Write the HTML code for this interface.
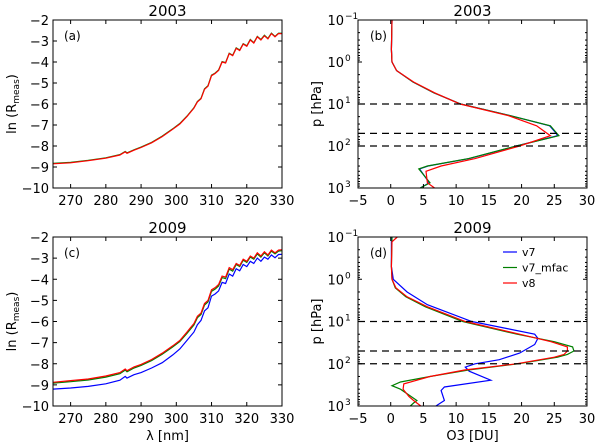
<!DOCTYPE html>
<html><head><meta charset="utf-8"><style>
html,body{margin:0;padding:0;background:#fff;}
svg{display:block;font-family:"DejaVu Sans","Liberation Sans",sans-serif;}
</style></head><body>
<svg id="fig" width="600" height="445" viewBox="0 0 600 445" xmlns="http://www.w3.org/2000/svg"></svg>
<script>
// ---- spectra data (panels a,c) ----
const lam = [265,270,275,280,284,285.5,286,288,290,293,296,299,301,303,304,305,306,307,308,309,310,311,312,313,314,315,316,317,318,319,320,321,322,323,324,325,326,327,328,329,330];
const lnA_v8 = [-8.85,-8.8,-8.7,-8.58,-8.43,-8.28,-8.35,-8.2,-8.07,-7.85,-7.55,-7.2,-6.95,-6.6,-6.4,-6.2,-5.9,-5.75,-5.3,-5.15,-4.65,-4.55,-4.4,-4.0,-4.05,-3.6,-3.7,-3.35,-3.45,-3.15,-3.25,-2.95,-3.1,-2.8,-2.95,-2.75,-2.9,-2.65,-2.8,-2.65,-2.65];
const lnA_mfac = [-8.83,-8.78,-8.68,-8.56,-8.41,-8.26,-8.33,-8.18,-8.05,-7.83,-7.53,-7.18,-6.93,-6.58,-6.38,-6.18,-5.88,-5.73,-5.28,-5.13,-4.63,-4.53,-4.38,-3.98,-4.03,-3.58,-3.68,-3.33,-3.43,-3.13,-3.23,-2.93,-3.08,-2.78,-2.93,-2.73,-2.88,-2.63,-2.78,-2.63,-2.63];
const lnC_v8 = [-8.88,-8.8,-8.72,-8.58,-8.42,-8.25,-8.33,-8.15,-8.03,-7.8,-7.5,-7.15,-6.9,-6.5,-6.3,-6.1,-5.75,-5.6,-5.15,-5.0,-4.5,-4.4,-4.25,-3.85,-3.9,-3.45,-3.55,-3.25,-3.35,-3.05,-3.15,-2.9,-3.0,-2.75,-2.9,-2.7,-2.85,-2.62,-2.75,-2.62,-2.6];
const lnC_mfac = [-8.92,-8.85,-8.77,-8.63,-8.47,-8.3,-8.38,-8.2,-8.08,-7.85,-7.55,-7.2,-6.95,-6.57,-6.37,-6.17,-5.82,-5.67,-5.22,-5.07,-4.57,-4.47,-4.32,-3.92,-3.97,-3.52,-3.62,-3.3,-3.4,-3.1,-3.2,-2.95,-3.05,-2.8,-2.95,-2.75,-2.9,-2.67,-2.8,-2.67,-2.65];
const lnC_v7 = [-9.2,-9.15,-9.07,-8.95,-8.78,-8.6,-8.68,-8.52,-8.42,-8.2,-7.95,-7.58,-7.3,-6.9,-6.7,-6.5,-6.15,-5.95,-5.5,-5.35,-4.8,-4.7,-4.55,-4.15,-4.2,-3.75,-3.85,-3.5,-3.6,-3.3,-3.4,-3.15,-3.25,-3.0,-3.15,-2.95,-3.05,-2.85,-2.98,-2.83,-2.82];
// ---- ozone profile data (panels b,d) ----
const pB_v8 = [0.1,0.5,1,1.6,3,5.4,10,19,33,57,100,200,300,400,750,1000];
const oB_v8 = [0.2,0.1,0.2,0.9,3.5,6.7,10.6,18,22.3,24.4,19.7,12.9,7.7,5.4,5.6,6.7];
const pB_mfac = [0.1,0.5,1,1.6,3,5.4,10,19,33,50,57,100,200,300,350,750,1000];
const oB_mfac = [0.2,0.1,0.2,0.9,3.4,6.6,10.7,18.3,24.4,25.4,25.7,19.2,11.9,5.6,4.3,6,4.5];
const oB_v7 = [0.2,0.1,0.2,0.9,3.4,6.6,10.7,18.3,24.3,25.3,25.5,19.2,12,5.7,4.4,5.9,4.5];
const pD_v7 = [0.1,0.5,1,2,4,10,15,20,25,35,56,80,100,120,150,245,355,430,740,1000];
const oD_v7 = [0.1,0.1,0.4,2.5,5.6,12.4,18,22,22.5,22,19.7,16.6,12.9,11.4,12,15.3,8.2,7.7,8.2,6.9];
const pD_mfac = [0.1,0.5,1,1.6,2.6,4.5,10,20,30,40,50,60,70,100,140,200,270,330,400,740,850,1000];
const oD_mfac = [0.2,0.1,0.2,0.7,2.3,5.3,11,19.3,25,27.8,28,27,25.5,19.5,12,6,1.5,0.2,1.5,4,3.5,3];
const pD_v8 = [0.1,0.13,0.5,1,1.6,2.6,4.5,10,20,30,40,50,60,70,100,140,200,300,400,600,740,1000];
const oD_v8 = [1.0,0.2,0.1,0.2,0.8,2.5,5.6,11.4,19.7,24.5,27,27,26.5,25,19.2,11.4,6,2,1.9,2.8,3.5,4.6];
const xTicksL = [270,280,290,300,310,320,330];
const yTicksL = [-2,-3,-4,-5,-6,-7,-8,-9,-10];
const xTicksR = [-5,0,5,10,15,20,25,30];
const pExp = [-1,0,1,2,3];
const dashP = [10,50,100];
const legendNames = ['v7','v7_mfac','v8'];
const colors = {v7:'#0000ff', mfac:'#008000', v8:'#ff0000'};

const NS='http://www.w3.org/2000/svg';
const svg=document.getElementById('fig');
function mk(tag,attrs,parent,text){const e=document.createElementNS(NS,tag);for(const k in attrs)e.setAttribute(k,attrs[k]);if(text!==undefined)e.textContent=text;(parent||svg).appendChild(e);return e;}

const L={x0:53,x1:282}, R={x0:358,x1:587};
const TOP={y0:20,y1:188}, BOT={y0:237,y1:406};

function spectralPanel(rows,label,title,series,showX){
  const g=mk('g',{});
  
  
  const sx=v=>L.x0+(v-265)/(330-265)*(L.x1-L.x0);
  const sy=v=>rows.y0+(-2-v)/8*(rows.y1-rows.y0);
  for(const s of series){
    const d=lam.map((l,i)=>(i?'L':'M')+sx(l).toFixed(1)+' '+sy(s.v[i]).toFixed(1)).join('');
    const p=mk('path',{d:d,fill:'none',stroke:s.c,'stroke-width':1.2},g);
    
    
  }
  mk('rect',{x:L.x0,y:rows.y0,width:L.x1-L.x0,height:rows.y1-rows.y0,fill:'none',stroke:'#000','stroke-width':1},g);
  for(const t of xTicksL){const x=sx(t);
    mk('line',{x1:x,x2:x,y1:rows.y1,y2:rows.y1-4,stroke:'#000'},g);
    mk('line',{x1:x,x2:x,y1:rows.y0,y2:rows.y0+4,stroke:'#000'},g);
    const tl=mk('text',{x:x,y:rows.y1+17,'text-anchor':'middle','font-size':13},g,String(t));
    }
  for(const t of yTicksL){const y=sy(t);
    mk('line',{x1:L.x0,x2:L.x0+4,y1:y,y2:y,stroke:'#000'},g);
    mk('line',{x1:L.x1,x2:L.x1-4,y1:y,y2:y,stroke:'#000'},g);
    const tl=mk('text',{x:L.x0-4,y:y+5,'text-anchor':'end','font-size':13},g,String(t).replace('-','\u2212'));
    }
  const ti=mk('text',{x:(L.x0+L.x1)/2,y:rows.y0-4,'text-anchor':'middle','font-size':15},g,title);
  
  const la=mk('text',{x:L.x0+11,y:rows.y0+20,'font-size':12},g,'('+label+')');
  
  const yt=mk('text',{transform:`translate(16,${(rows.y0+rows.y1)/2}) rotate(-90)`,'text-anchor':'middle','font-size':13},g);
  
  mk('tspan',{},yt,'ln (R');mk('tspan',{'font-size':9,dy:3},yt,'meas');mk('tspan',{dy:-3},yt,')');
  if(showX){const xt=mk('text',{x:(L.x0+L.x1)/2,y:rows.y1+34,'text-anchor':'middle','font-size':13},g,'\u03bb [nm]');
    }
}

function profilePanel(rows,label,title,series,showX,legend){
  const g=mk('g',{});
  
  
  const sx=v=>R.x0+(v+5)/35*(R.x1-R.x0);
  const sy=p=>rows.y0+(Math.log10(p)+1)/4*(rows.y1-rows.y0);
  for(const s of series){
    const d=s.p.map((p,i)=>(i?'L':'M')+sx(s.o[i]).toFixed(1)+' '+sy(p).toFixed(1)).join('');
    const pa=mk('path',{d:d,fill:'none',stroke:s.c,'stroke-width':1.2},g);
    
    
  }
  for(const p of dashP){const y=sy(p);
    const dl=mk('line',{x1:R.x0,x2:R.x1,y1:y,y2:y,stroke:'#000','stroke-width':1.3,'stroke-dasharray':'7,5'},g);
    }
  mk('rect',{x:R.x0,y:rows.y0,width:R.x1-R.x0,height:rows.y1-rows.y0,fill:'none',stroke:'#000','stroke-width':1},g);
  for(const t of xTicksR){const x=sx(t);
    mk('line',{x1:x,x2:x,y1:rows.y1,y2:rows.y1-4,stroke:'#000'},g);
    mk('line',{x1:x,x2:x,y1:rows.y0,y2:rows.y0+4,stroke:'#000'},g);
    const tl=mk('text',{x:x,y:rows.y1+17,'text-anchor':'middle','font-size':13},g,String(t).replace('-','\u2212'));
    }
  for(const e of pExp){const y=sy(Math.pow(10,e));
    mk('line',{x1:R.x0,x2:R.x0+4,y1:y,y2:y,stroke:'#000'},g);
    mk('line',{x1:R.x1,x2:R.x1-4,y1:y,y2:y,stroke:'#000'},g);
    const tl=mk('text',{x:R.x0-14,y:y+5,'text-anchor':'end','font-size':13},g,'10');
    
    mk('text',{x:R.x0-13,y:y-1,'font-size':9},g,String(e).replace('-','\u2212'));
    for(let k=2;k<10&&e<3;k++){const yy=sy(k*Math.pow(10,e));
      mk('line',{x1:R.x0,x2:R.x0+2,y1:yy,y2:yy,stroke:'#000'},g);
      mk('line',{x1:R.x1,x2:R.x1-2,y1:yy,y2:yy,stroke:'#000'},g);}
  }
  const ti=mk('text',{x:(R.x0+R.x1)/2,y:rows.y0-4,'text-anchor':'middle','font-size':15},g,title);
  
  const la=mk('text',{x:R.x0+12,y:rows.y0+20,'font-size':12},g,'('+label+')');
  
  const yt=mk('text',{transform:`translate(321,${(rows.y0+rows.y1)/2}) rotate(-90)`,'text-anchor':'middle','font-size':13},g,'p [hPa]');
  
  if(showX){const xt=mk('text',{x:(R.x0+R.x1)/2,y:rows.y1+34,'text-anchor':'middle','font-size':13},g,'O3 [DU]');
    }
  if(legend){
    const lc=[colors.v7,colors.mfac,colors.v8];
    legendNames.forEach((n,i)=>{const y=rows.y0+15+i*15.5;
      const lg=mk('g',{},g);
      
      
      mk('line',{x1:503,x2:517,y1:y,y2:y,stroke:lc[i],'stroke-width':1.2},lg);
      mk('text',{x:522,y:y+4,'font-size':11},lg,n);});
  }
}

spectralPanel(TOP,'a','2003',[{n:'v7-mfac',v:lnA_mfac,c:colors.mfac},{n:'v8',v:lnA_v8,c:colors.v8}],false);
spectralPanel(BOT,'c','2009',[{n:'v7',v:lnC_v7,c:colors.v7},{n:'v7-mfac',v:lnC_mfac,c:colors.mfac},{n:'v8',v:lnC_v8,c:colors.v8}],true);
profilePanel(TOP,'b','2003',[{n:'v7',p:pB_mfac,o:oB_v7,c:colors.v7},{n:'v7-mfac',p:pB_mfac,o:oB_mfac,c:colors.mfac},{n:'v8',p:pB_v8,o:oB_v8,c:colors.v8}],false,false);
profilePanel(BOT,'d','2009',[{n:'v7',p:pD_v7,o:oD_v7,c:colors.v7},{n:'v7-mfac',p:pD_mfac,o:oD_mfac,c:colors.mfac},{n:'v8',p:pD_v8,o:oD_v8,c:colors.v8}],true,true);
</script>
</body></html>
